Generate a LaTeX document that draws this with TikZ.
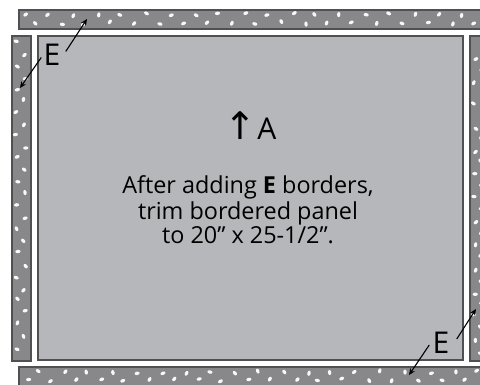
\documentclass[tikz,border=0pt]{standalone}
\usepackage{fontspec}
\setmainfont{Open Sans}
\newfontfamily\arrowfont{DejaVu Sans}
\usetikzlibrary{arrows.meta,positioning}
\definecolor{panelgray}{RGB}{182,183,186}
\definecolor{stripgray}{RGB}{136,136,139}
\definecolor{edgegray}{RGB}{80,80,82}

\begin{document}
\begin{tikzpicture}[x=0.5pt,y=-0.5pt,
  >={Stealth[length=3.2pt,width=2.8pt]},
  strip/.style={draw=edgegray,line width=0.9pt,fill=stripgray,anchor=north west,inner sep=0pt},
  panel/.style={draw=edgegray,line width=0.9pt,fill=panelgray,anchor=north west,inner sep=0pt},
  lbl/.style={font=\fontsize{15}{15}\selectfont,inner sep=0pt},
  note/.style={font=\fontsize{11.7}{11.2}\selectfont,align=center,inner sep=0pt},
  speck/.style={white!94!stripgray},
  ptr/.style={->,line width=0.55pt}]
\useasboundingbox (0,0) rectangle (480,384);
\fill[white] (0,0) rectangle (480,384);
\pgfmathsetseed{11}

% borders and panel
\node[strip,minimum width=237pt,minimum height=9.5pt] (topE) at (18,9) {};
\node[strip,minimum width=9.5pt,minimum height=162.5pt] (leftE) at (11,35) {};
\node[strip,minimum width=9.5pt,minimum height=162.5pt] (rightE) at (469,35) {};
\node[strip,minimum width=237pt,minimum height=9.5pt] (botE) at (18,366) {};
\node[panel,minimum width=212.5pt,minimum height=162pt] (pnl) at (37,35) {};

% specks
\foreach \k in {0,...,38}{
  \pgfmathsetmacro\xx{24+\k*12.2+rand*2.5}
  \pgfmathsetmacro\yy{14.5+mod(\k,2)*8.5+rand*1.5}
  \pgfmathsetmacro\aa{rand*90}
  \fill[speck,rotate around={\aa:(\xx,\yy)}] (\xx,\yy) ellipse (2.6 and 1.7);
  \pgfmathsetmacro\yy{372+mod(\k+1,2)*8+rand*1.5}
  \pgfmathsetmacro\aa{rand*90}
  \fill[speck,rotate around={\aa:(\xx+3,\yy)}] (\xx+3,\yy) ellipse (2.6 and 1.7);
}
\foreach \k in {0,...,26}{
  \pgfmathsetmacro\yy{41+\k*11.8+rand*2.5}
  \pgfmathsetmacro\xx{16.5+mod(\k,2)*8+rand*1.5}
  \pgfmathsetmacro\aa{rand*90}
  \fill[speck,rotate around={\aa:(\xx,\yy)}] (\xx,\yy) ellipse (1.7 and 2.6);
  \pgfmathsetmacro\xx{474.5+mod(\k+1,2)*7+rand*1.5}
  \pgfmathsetmacro\aa{rand*90}
  \fill[speck,rotate around={\aa:(\xx,\yy+4)}] (\xx,\yy+4) ellipse (1.7 and 2.6);
}

% texts
\node[lbl] (grain) at (250.5,125.5) {{\arrowfont\fontsize{19}{19}\selectfont ↑}\hspace{0.5pt}A};
\node[note] (trim) at (248,210) {After adding \textbf{E} borders,\\trim bordered panel\\to 20\textquotedblright\ x 25-1/2\textquotedblright.};
\node[lbl] (eTL) at (52,54.5) {E};
\node[lbl] (eBR) at (441,343) {E};

% pointers
\coordinate (tipT) at (87,19);
\coordinate (tipL) at (20,88);
\coordinate (tipR) at (476,309);
\coordinate (tipB) at (409,375);
\draw[ptr] ([shift={(5,-3)}]eTL.east) -- (tipT);
\draw[ptr] ([shift={(-2,3)}]eTL.west) -- (tipL);
\draw[ptr] ([shift={(7,-4)}]eBR.east) -- (tipR);
\draw[ptr] ([shift={(-3,2)}]eBR.west) -- (tipB);
\end{tikzpicture}
\end{document}
